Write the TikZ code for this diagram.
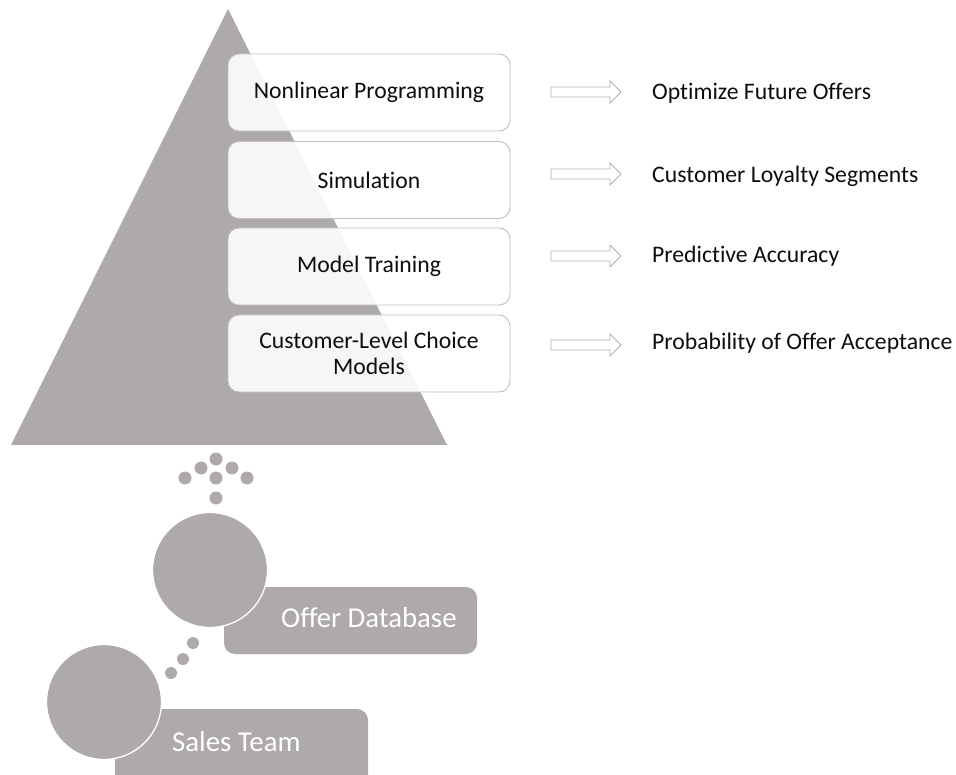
\documentclass[tikz,border=0pt]{standalone}
\usepackage{fontspec}
\setmainfont{Carlito}[Ligatures=NoCommon]
\definecolor{pyr}{HTML}{AEAAAA}
\definecolor{boxline}{HTML}{C0C0C0}
\definecolor{arrline}{HTML}{B0B0B0}
\definecolor{txt}{HTML}{0D0D0D}
\tikzset{
  layerbox/.style={draw=boxline, line width=0.9pt, fill=white, fill opacity=0.9, text opacity=1,
    rounded corners=11pt, minimum width=282pt, minimum height=77pt, inner sep=0pt,
    align=center, font=\fontsize{23.7}{26.5}\selectfont, text=txt},
  outtext/.style={anchor=west, inner sep=0pt, font=\fontsize{23.7}{28}\selectfont, text=txt},
  smalldot/.style={circle, fill=pyr, minimum size=13pt, inner sep=0pt},
  bigdot/.style={circle, fill=pyr, draw=white, line width=1.3pt, minimum size=115pt, inner sep=0pt},
  tagbox/.style={fill=pyr, rounded corners=11pt, minimum width=253pt, minimum height=67pt, inner sep=0pt},
  tagtext/.style={anchor=west, inner sep=0pt, text=white, font=\fontsize{28.8}{32}\selectfont},
  blockarr/.pic={\draw[draw=arrline, line width=0.9pt, fill=white]
    (0,-5) -- (59,-5) -- (59,-11) -- (70,0) -- (59,11) -- (59,5) -- (0,5) -- cycle;}
}
\begin{document}
\begin{tikzpicture}[x=1pt,y=-1pt]
\useasboundingbox (0,0) rectangle (956,775);
% pyramid
\fill[pyr] (228,9) -- (447,445) -- (11,445) -- cycle;
% layer boxes
\node[layerbox] (b1) at (369,92.5) {Nonlinear Programming};
\node[layerbox] (b2) at (369,180) {Simulation};
\node[layerbox] (b3) at (369,266.5) {Model Training};
\node[layerbox] (b4) at (369,353.5) {Customer-Level Choice\\Models};
% block arrows
\pic at (551,92) {blockarr};
\pic at (551,174) {blockarr};
\pic at (551,256) {blockarr};
\pic at (551,345) {blockarr};
% outcome texts
\node[outtext] (o1) at (652,93) {Optimize Future Offers};
\node[outtext] (o2) at (652,176) {Customer Loyalty Segments};
\node[outtext] (o3) at (652,256) {Predictive Accuracy};
\node[outtext] (o4) at (652,343) {Probability of Offer Acceptance};
% upward dots
\node[smalldot] (d1) at (216,459) {};
\node[smalldot] (d2) at (201,468) {};
\node[smalldot] (d3) at (232,468) {};
\node[smalldot] (d4) at (185,478) {};
\node[smalldot] (d5) at (216,478) {};
\node[smalldot] (d6) at (247,478) {};
\node[smalldot] (d7) at (216,498) {};
% tag boxes
\node[tagbox] (t1) at (350.5,620.5) {};
\node[tagtext] (l1) at (281,618) {Offer Database};
\node[tagbox, minimum height=80pt] (t2) at (241.5,749) {};
\node[tagtext] (l2) at (172,742) {Sales Team};
% circles
\node[bigdot] (c1) at (210,570) {};
\node[bigdot] (c2) at (104,702) {};
% connecting dots
\node[smalldot, minimum size=12pt] (e1) at (193,643) {};
\node[smalldot, minimum size=12pt] (e2) at (183,659) {};
\node[smalldot, minimum size=12pt] (e3) at (171,673) {};
\end{tikzpicture}
\end{document}
